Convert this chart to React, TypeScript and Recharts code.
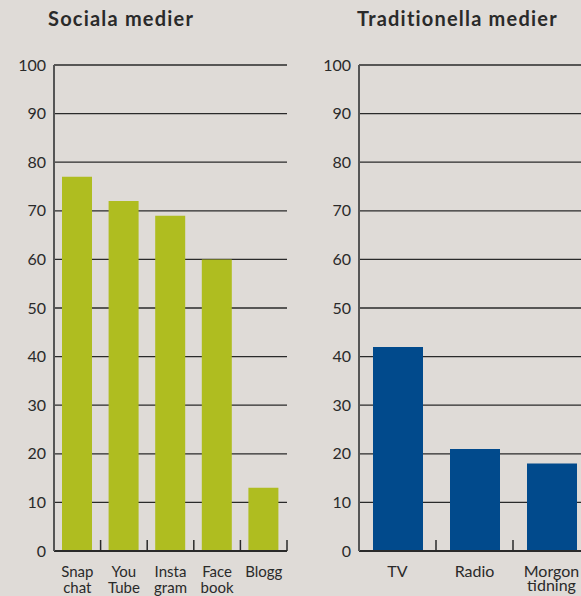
import React from "react";
import { BarChart, Bar, XAxis, YAxis, CartesianGrid } from "recharts";

const socialTitle = "Sociala medier";
const socialCategories = ["Snap chat", "You Tube", "Insta gram", "Face book", "Blogg"];
const socialValues = [77, 72, 69, 60, 13];

const traditionalTitle = "Traditionella medier";
const traditionalCategories = ["TV", "Radio", "Morgon tidning"];
const traditionalValues = [42, 21, 18];

const yTicks = [0, 10, 20, 30, 40, 50, 60, 70, 80, 90, 100];

const FONT = "Lato, 'Open Sans', sans-serif";
const BG = "#dfdbd7";
const INK = "#2a2a2a";
const GREEN = "#afbd20";
const BLUE = "#014a8c";

const makeTick = (lineGap: number, fontSize: number) => (props: any) => {
  const { x, y, payload, width, visibleTicksCount } = props;
  const lines = String(payload.value).split(" ");
  const band = width && visibleTicksCount ? Number(width) / Number(visibleTicksCount) : 0;
  const bx = x + band / 2;
  return (
    <g>
      {band > 0 && <line x1={bx} x2={bx} y1={y} y2={y - 11} stroke={INK} strokeWidth={1.5} />}
      <text x={x} y={y + 26} textAnchor="middle" fill={INK} fontSize={fontSize} fontFamily={FONT}>
        {lines.map((l, i) => (
          <tspan key={i} x={x} dy={i === 0 ? 0 : lineGap}>
            {l}
          </tspan>
        ))}
      </text>
    </g>
  );
};

type PanelProps = {
  categories: string[];
  values: number[];
  color: string;
  width: number;
  rightMargin: number;
  barSize: number;
  lineGap: number;
  labelSize: number;
};

function Panel({ categories, values, color, width, rightMargin, barSize, lineGap, labelSize }: PanelProps) {
  const data = categories.map((c, i) => ({ name: c, value: values[i] }));
  return (
    <BarChart
      width={width}
      height={596}
      data={data}
      margin={{ top: 65, right: rightMargin, bottom: 0, left: 0 }}
    >
      <CartesianGrid vertical={false} stroke={INK} strokeWidth={1.3} />
      <XAxis
        dataKey="name"
        height={45}
        interval={0}
        tickLine={false}
        tickSize={0}
        tickMargin={0}
        axisLine={{ stroke: INK, strokeWidth: 2 }}
        tick={makeTick(lineGap, labelSize)}
      />
      <YAxis
        width={54}
        domain={[0, 100]}
        ticks={yTicks}
        interval={0}
        tickLine={false}
        axisLine={{ stroke: "#555", strokeWidth: 2 }}
        tick={{ fill: INK, fontSize: 16, fontFamily: FONT }}
      />
      <Bar dataKey="value" fill={color} barSize={barSize} isAnimationActive={false} />
    </BarChart>
  );
}

const titleStyle: React.CSSProperties = {
  position: "absolute",
  top: 6,
  fontSize: 20,
  fontWeight: 700,
  letterSpacing: 1.2,
  color: INK,
  whiteSpace: "nowrap",
  lineHeight: "24px",
};

export default function App() {
  return (
    <div
      style={{
        position: "absolute",
        left: 0,
        top: 0,
        width: 581,
        height: 596,
        background: BG,
        overflow: "hidden",
        fontFamily: FONT,
      }}
    >
      <div style={{ ...titleStyle, left: 48 }}>{socialTitle}</div>
      <div style={{ ...titleStyle, left: 357 }}>{traditionalTitle}</div>
      <div style={{ position: "absolute", left: 0, top: 0 }}>
        <Panel
          categories={socialCategories}
          values={socialValues}
          color={GREEN}
          width={300}
          rightMargin={13}
          barSize={30}
          lineGap={16}
          labelSize={15}
        />
      </div>
      <div style={{ position: "absolute", left: 305, top: 0 }}>
        <Panel
          categories={traditionalCategories}
          values={traditionalValues}
          color={BLUE}
          width={285}
          rightMargin={0}
          barSize={50}
          lineGap={14}
          labelSize={16}
        />
      </div>
    </div>
  );
}
